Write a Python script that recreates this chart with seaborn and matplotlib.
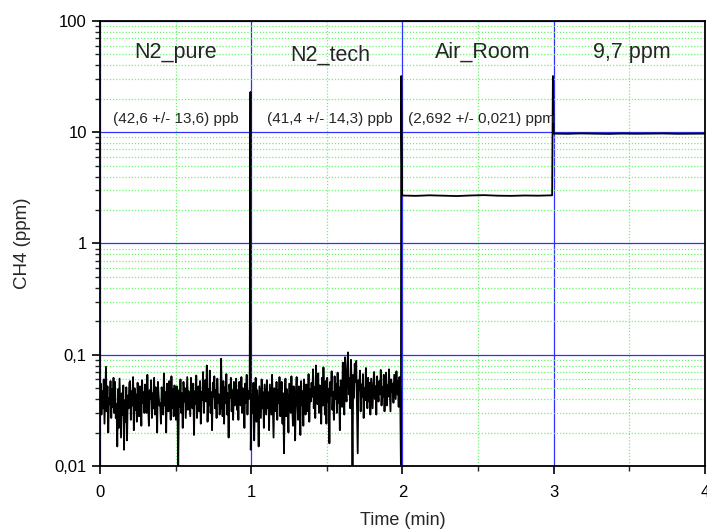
import numpy as np
import pandas as pd
import matplotlib
matplotlib.use("Agg")
import matplotlib.pyplot as plt
from matplotlib.ticker import FixedLocator, NullFormatter, LogLocator
import seaborn as sns

# ---------------- data ----------------
# N2_pure noise segment, 0..1 min, ppb
n2_pure_ppb = [38, 55, 29, 47, 33, 60, 24, 44, 78, 31, 52, 20, 41, 36, 58, 27, 49, 34, 62, 30,
               57, 27, 36, 15, 49, 22, 61, 34, 18, 45, 29, 53, 14, 39, 25, 51, 17, 43, 33, 56,
               58, 26, 47, 35, 63, 21, 50, 32, 44, 25, 56, 38, 28, 52, 40, 23, 59, 37, 46, 30,
               54, 42, 30, 66, 36, 23, 48, 40, 59, 27, 45, 33, 62, 29, 51, 38, 20, 57, 43, 35,
               37, 24, 51, 43, 29, 68, 35, 46, 20, 55, 39, 31, 58, 44, 26, 64, 33, 49, 28, 53,
               44, 26, 52, 34, 10, 48, 34, 60, 30, 45, 22, 57, 38, 50, 27, 41, 63, 32, 47, 36,
               28, 62, 41, 33, 55, 19, 47, 36, 65, 27, 43, 52, 31, 58, 24, 46, 39, 70, 30, 50,
               59, 38, 80, 25, 49, 35, 72, 30, 46, 21, 56, 42, 64, 33, 48, 27, 61, 37, 44, 29,
               33, 92, 40, 28, 58, 24, 51, 37, 67, 29, 45, 18, 54, 41, 62, 31, 48, 26, 57, 35,
               39, 61, 32, 48, 26, 57, 43, 35, 63, 30, 50, 44, 22, 55, 37, 66, 29, 47, 40, 52]
# N2_tech noise segment, 1..2 min, ppb
n2_tech_ppb = [44, 30, 56, 17, 41, 62, 25, 48, 35, 15, 52, 38, 27, 60, 33, 46, 22, 54, 39, 29,
               59, 33, 46, 21, 54, 40, 29, 66, 36, 18, 50, 43, 31, 57, 26, 48, 37, 63, 28, 45,
               57, 24, 45, 13, 39, 61, 28, 49, 34, 20, 55, 41, 30, 64, 36, 23, 52, 43, 17, 47,
               63, 37, 26, 52, 44, 19, 58, 35, 47, 23, 60, 39, 29, 54, 42, 31, 67, 25, 49, 38,
               56, 42, 74, 33, 51, 27, 80, 45, 36, 68, 30, 53, 41, 24, 62, 35, 77, 44, 29, 58,
               24, 62, 38, 49, 16, 57, 43, 71, 32, 46, 26, 64, 40, 55, 30, 69, 37, 51, 21, 59,
               55, 34, 85, 47, 29, 95, 52, 38, 78, 105, 44, 62, 33, 90, 48, 10, 66, 41, 83, 57,
               88, 36, 13, 59, 48, 72, 31, 54, 42, 67, 27, 50, 39, 76, 45, 33, 62, 38, 56, 29,
               61, 45, 33, 57, 70, 40, 52, 29, 64, 47, 38, 58, 44, 73, 35, 51, 42, 66, 31, 55,
               69, 35, 53, 42, 74, 48, 31, 60, 46, 55, 37, 66, 52, 40, 71, 44, 58, 34, 63, 50]
# Air_Room segment, 2..3 min, ppm
air_room_ppm = [2.70, 2.68, 2.71, 2.69, 2.67, 2.70, 2.72, 2.69, 2.68, 2.70, 2.69, 2.71]
# 9,7 ppm segment, 3..4 min, ppm
cal_97_ppm = [9.72, 9.68, 9.75, 9.70, 9.66, 9.73, 9.69, 9.71, 9.74, 9.68, 9.70, 9.72]
# switching spikes (ppm)
spike_peaks_ppm = [23, 32, 32]
spike_floors_ppm = [0.014, 0.0101]

segment_names = ["N2_pure", "N2_tech", "Air_Room", "9,7 ppm"]
segment_stats = ["(42,6 +/- 13,6) ppb", "(41,4 +/- 14,3) ppb", "(2,692 +/- 0,021) ppm"]
y_ticks = [0.01, 0.1, 1, 10, 100]
y_ticklabels = ["0,01", "0,1", "1", "10", "100"]
x_ticks = [0, 1, 2, 3, 4]

# ---------------- build series ----------------
t1 = np.linspace(0.0, 0.99, len(n2_pure_ppb))
t2 = np.linspace(1.005, 1.985, len(n2_tech_ppb))
t3 = np.linspace(1.998, 2.99, len(air_room_ppm))
t4 = np.linspace(3.0, 4.0, len(cal_97_ppm))

times = np.concatenate([
    t1, [0.995, 0.997],
    t2, [1.99, 1.992],
    t3, [2.995],
    t4])
values = np.concatenate([
    np.array(n2_pure_ppb) / 1000.0, [spike_peaks_ppm[0], spike_floors_ppm[0]],
    np.array(n2_tech_ppb) / 1000.0, [spike_floors_ppm[1], spike_peaks_ppm[1]],
    air_room_ppm, [spike_peaks_ppm[2]],
    cal_97_ppm])
df = pd.DataFrame({"Time (min)": times, "CH4 (ppm)": values})

# ---------------- plot ----------------
sns.set_style("white")
plt.rcParams["font.family"] = ["Liberation Sans", "DejaVu Sans"]

fig = plt.figure(figsize=(7.07, 5.31), dpi=100)
ax = fig.add_axes([0.1414, 0.1224, 0.8556, 0.8381])

sns.lineplot(data=df, x="Time (min)", y="CH4 (ppm)", ax=ax, estimator=None,
             sort=False, color="black", linewidth=1.3, zorder=3)

ax.set_yscale("log")
ax.set_xlim(0, 4)
ax.set_ylim(0.01, 100)

ax.yaxis.set_major_locator(FixedLocator(y_ticks))
ax.set_yticklabels(y_ticklabels)
ax.yaxis.set_minor_locator(LogLocator(base=10, subs=np.arange(2, 10)))
ax.yaxis.set_minor_formatter(NullFormatter())
ax.xaxis.set_major_locator(FixedLocator(x_ticks))
ax.set_xticklabels([str(v) for v in x_ticks])
ax.xaxis.set_minor_locator(FixedLocator([0.5, 1.5, 2.5, 3.5]))

ax.grid(which="minor", color="#6cf56c", linestyle=(0, (1, 1.5)), linewidth=0.9, zorder=0)
ax.grid(which="major", color="#3030ff", linestyle="-", linewidth=0.9, zorder=1)
ax.set_axisbelow(True)

ax.tick_params(which="major", direction="out", length=6, width=1.2, labelsize=12,
               left=True, bottom=True, colors="black")
ax.tick_params(axis="x", which="major", pad=8)
ax.tick_params(which="minor", direction="out", length=3.5, width=1.0,
               left=True, bottom=True)
for s in ax.spines.values():
    s.set_color("black")
    s.set_linewidth(1.3)

ax.set_xlabel("Time (min)", fontsize=13, labelpad=8)
ax.set_ylabel("CH4 (ppm)", fontsize=13.5, labelpad=17)

name_x = [0.5, 1.52, 2.53, 3.52]
name_y = [52, 49, 52, 52]
for x, y, s in zip(name_x, name_y, segment_names):
    ax.text(x, y, s, ha="center", va="center", fontsize=15.5, zorder=5)
stat_x = [0.5, 1.52, 2.52]
for x, s in zip(stat_x, segment_stats):
    ax.text(x, 13.2, s, ha="center", va="center", fontsize=11, zorder=5)

fig.savefig("out.png", dpi=100)
